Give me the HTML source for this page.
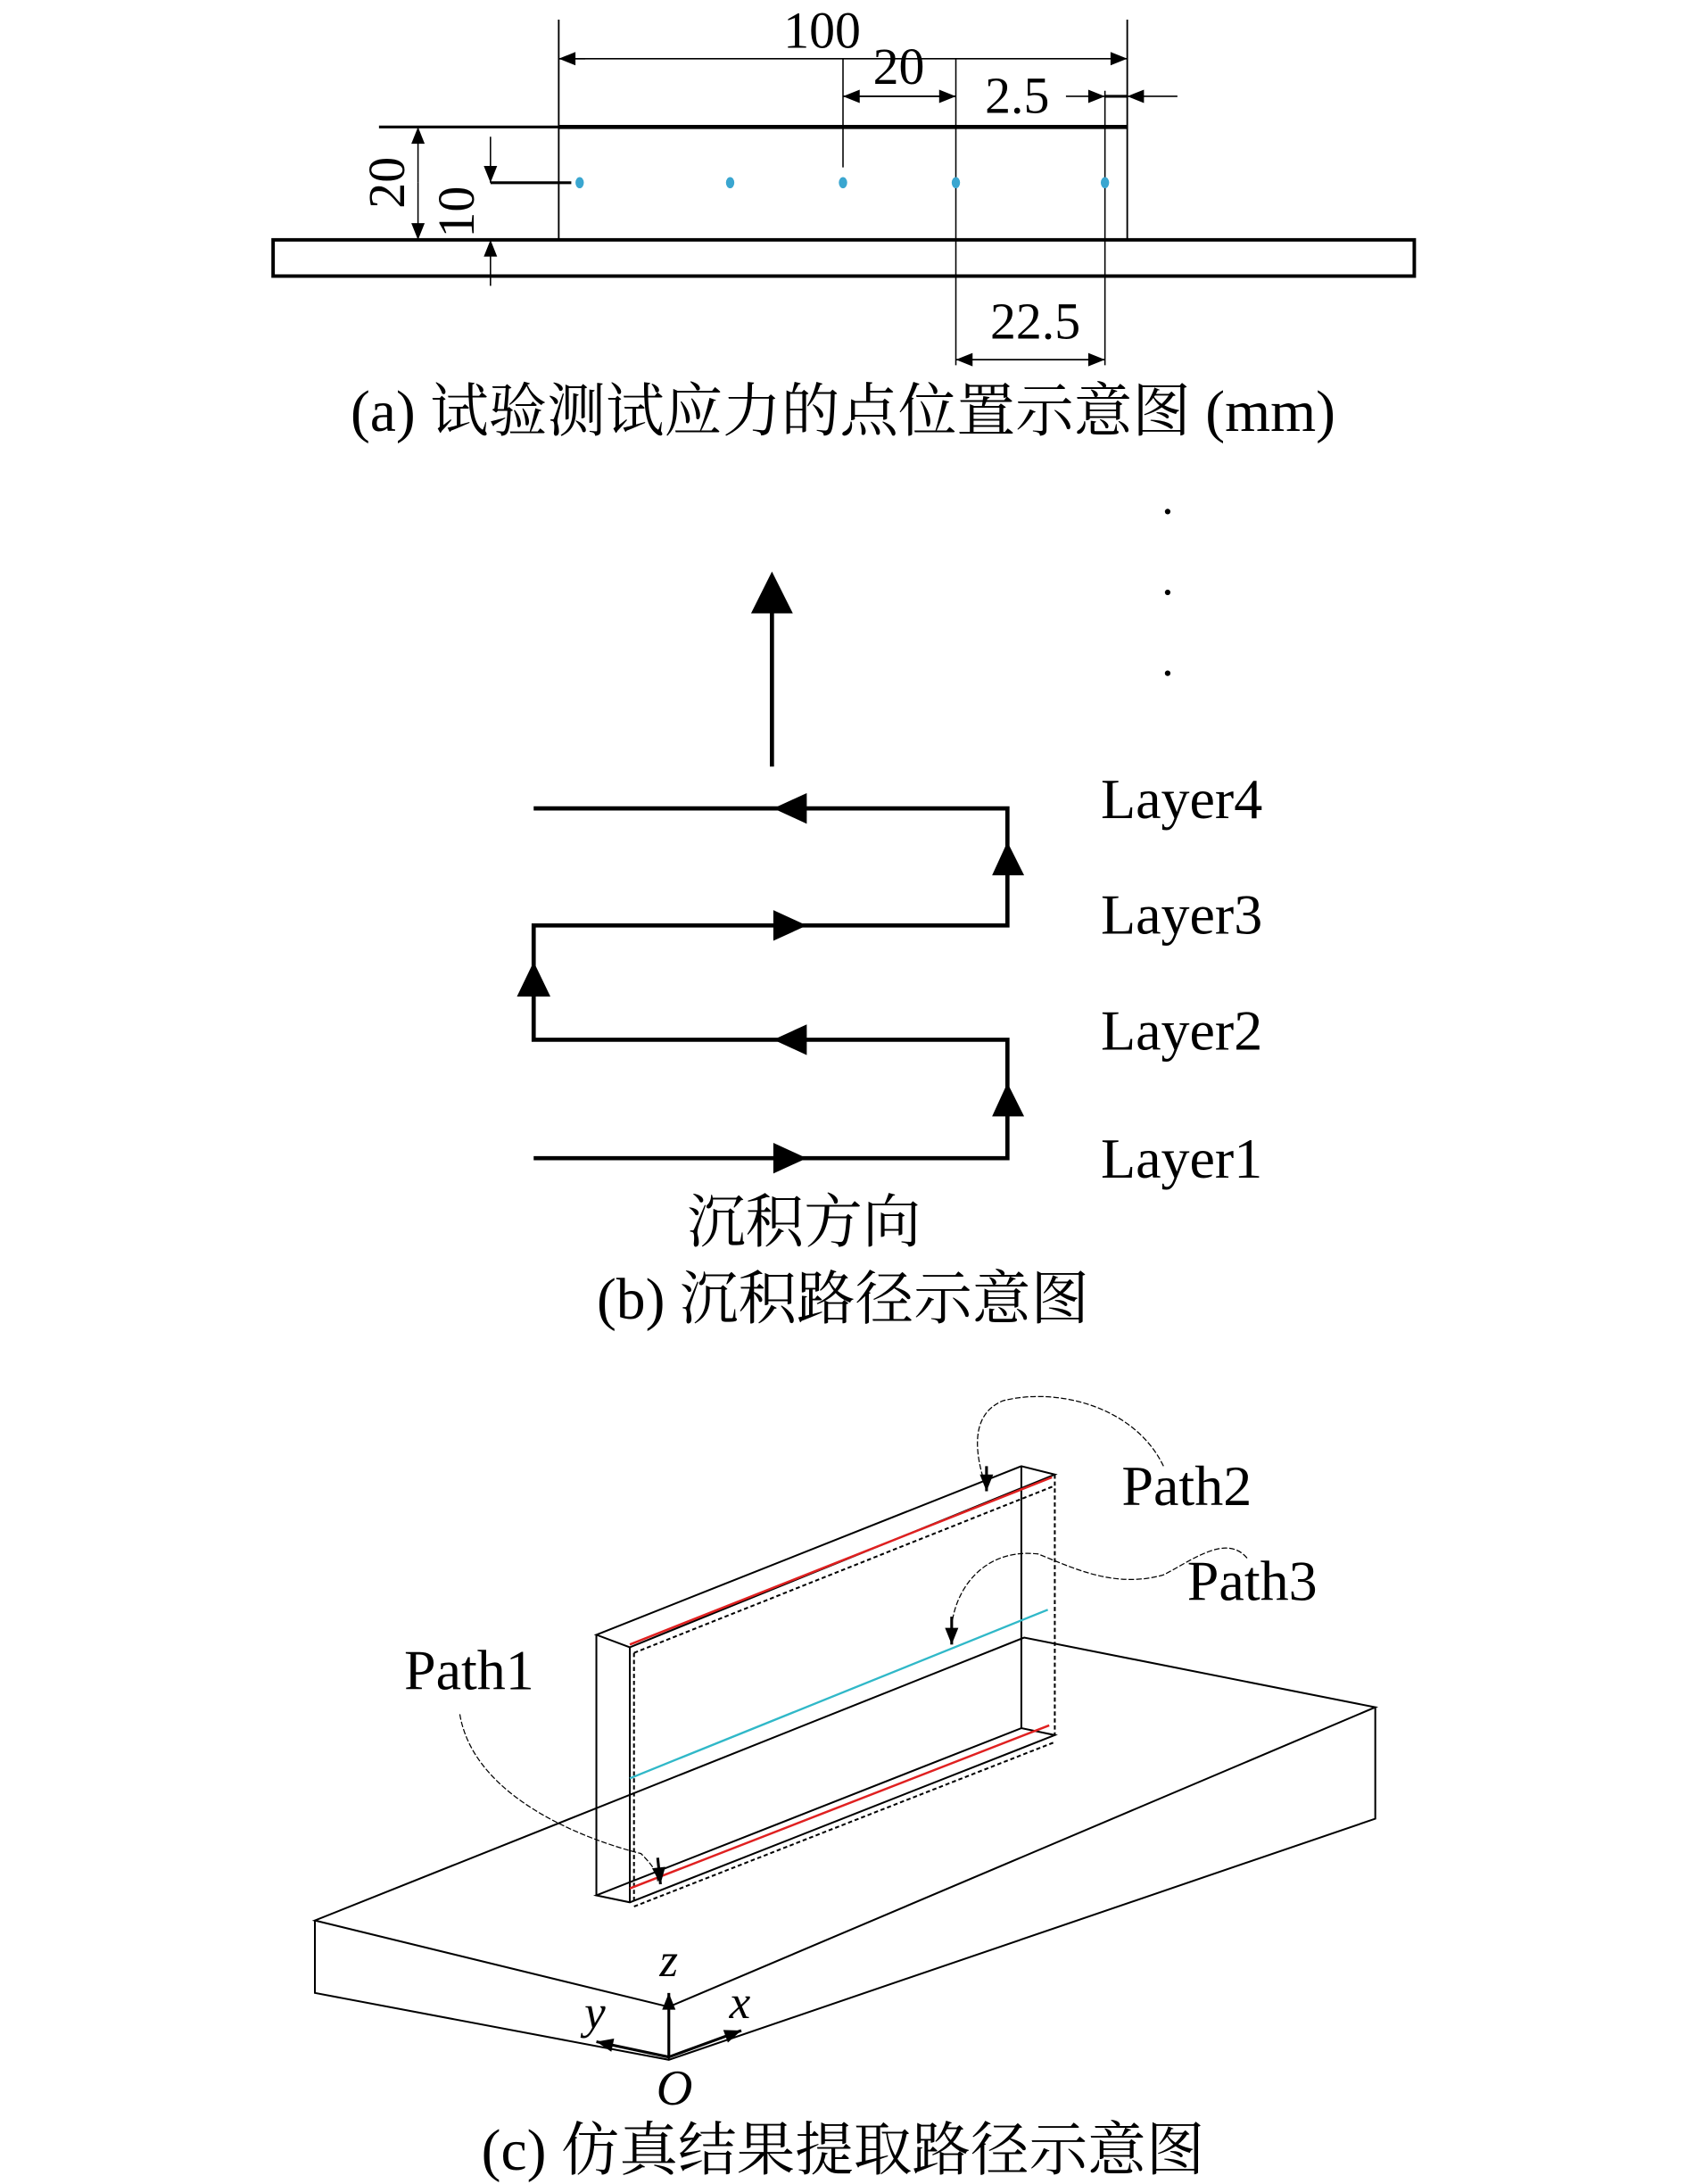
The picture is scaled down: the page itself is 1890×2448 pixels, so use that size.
<!DOCTYPE html>
<html><head><meta charset="utf-8"><style>
html,body{margin:0;padding:0;background:#fff}
svg{display:block}
text{font-family:"Liberation Serif","Noto Serif CJK SC","Noto Sans CJK SC",serif;fill:#000}
</style></head><body>
<svg width="1890" height="2448" viewBox="0 0 1210 1567" xmlns="http://www.w3.org/2000/svg">
<defs>
<marker id="ah" viewBox="0 0 10 10" refX="10" refY="5" markerWidth="14" markerHeight="12" markerUnits="userSpaceOnUse" orient="auto"><path d="M0,1 L10,5 L0,9 z" fill="#000"/></marker>
</defs>
<!-- (a) -->
<g stroke="#000" fill="none">
<rect x="196" y="172" width="819" height="26" stroke-width="2.5"/>
<line x1="401" y1="91" x2="809" y2="91" stroke-width="3"/>
<line x1="401" y1="14" x2="401" y2="172" stroke-width="1.2"/>
<line x1="809" y1="14" x2="809" y2="172" stroke-width="1.2"/>
<line x1="605" y1="42" x2="605" y2="120" stroke-width="1"/>
<line x1="686" y1="42" x2="686" y2="262" stroke-width="1"/>
<line x1="793" y1="65" x2="793" y2="262" stroke-width="1"/>
<line x1="401" y1="42" x2="809" y2="42" stroke-width="1" marker-end="url(#ah)"/>
<line x1="420" y1="42" x2="401" y2="42" stroke-width="1" marker-end="url(#ah)"/>
<line x1="605" y1="69" x2="686" y2="69" stroke-width="1" marker-end="url(#ah)"/>
<line x1="686" y1="69" x2="605" y2="69" stroke-width="1" marker-end="url(#ah)"/>
<line x1="765" y1="69" x2="793" y2="69" stroke-width="1" marker-end="url(#ah)"/>
<line x1="793" y1="69" x2="809" y2="69" stroke-width="2"/>
<line x1="845" y1="69" x2="809" y2="69" stroke-width="1" marker-end="url(#ah)"/>
<line x1="686" y1="258" x2="793" y2="258" stroke-width="1" marker-end="url(#ah)"/>
<line x1="793" y1="258" x2="686" y2="258" stroke-width="1" marker-end="url(#ah)"/>
<line x1="272" y1="91" x2="401" y2="91" stroke-width="2"/>
<line x1="352" y1="131" x2="410" y2="131" stroke-width="2"/>
<line x1="300" y1="131" x2="300" y2="91" stroke-width="1" marker-end="url(#ah)"/>
<line x1="300" y1="131" x2="300" y2="172" stroke-width="1" marker-end="url(#ah)"/>
<line x1="352" y1="98" x2="352" y2="131" stroke-width="1" marker-end="url(#ah)"/>
<line x1="352" y1="205" x2="352" y2="172" stroke-width="1" marker-end="url(#ah)"/>
</g>
<g fill="#3aa6d0"><ellipse cx="416" cy="131" rx="3" ry="4"/><ellipse cx="524" cy="131" rx="3" ry="4"/><ellipse cx="605" cy="131" rx="3" ry="4"/><ellipse cx="686" cy="131" rx="3" ry="4"/><ellipse cx="793" cy="131" rx="3" ry="4"/></g>
<text x="590" y="34" font-size="37" text-anchor="middle">100</text>
<text x="645" y="60" font-size="37" text-anchor="middle">20</text>
<text x="730" y="81" font-size="37" text-anchor="middle">2.5</text>
<text x="743" y="243" font-size="37" text-anchor="middle">22.5</text>
<text transform="translate(290,131) rotate(-90)" font-size="37" text-anchor="middle">20</text>
<text transform="translate(340,152) rotate(-90)" font-size="37" text-anchor="middle">10</text>
<text x="605" y="309" font-size="42" text-anchor="middle">(a) 试验测试应力的点位置示意图 (mm)</text>
<!-- (b) -->
<g stroke="#000" stroke-width="3" fill="none">
<line x1="554" y1="550" x2="554" y2="430"/>
<path d="M383,580 H723 V664 H383 V746 H723 V831 H383"/>
</g>
<g fill="#000">
<path d="M539,440 L554,410 L569,440 z"/>
<path d="M555,580 L579,569 L579,591 z"/>
<path d="M579,664 L555,653 L555,675 z"/>
<path d="M555,746 L579,735 L579,757 z"/>
<path d="M579,831 L555,820 L555,842 z"/>
<path d="M712,628 L723,604 L735,628 z"/>
<path d="M371,715 L383,690 L395,715 z"/>
<path d="M712,801 L723,777 L735,801 z"/>
<circle cx="838" cy="367" r="2"/><circle cx="838" cy="425" r="2"/><circle cx="838" cy="483" r="2"/>
</g>
<text x="790" y="587" font-size="41">Layer4</text>
<text x="790" y="670" font-size="41">Layer3</text>
<text x="790" y="753" font-size="41">Layer2</text>
<text x="790" y="845" font-size="41">Layer1</text>
<text x="577" y="891" font-size="42" text-anchor="middle">沉积方向</text>
<text x="605" y="946" font-size="42" text-anchor="middle">(b) 沉积路径示意图</text>
<!-- (c) -->
<g stroke="#000" stroke-width="1.3" fill="none">
<path d="M226,1378 L480,1440 L987,1225 L735,1175 L226,1378 Z"/>
<path d="M226,1378 V1430 L480,1478 L987,1305 V1225"/>
<line x1="480" y1="1440" x2="480" y2="1478"/>
<path d="M428,1173 L733,1052 L757,1058 L452,1182 Z"/>
<line x1="428" y1="1173" x2="428" y2="1360"/>
<line x1="452" y1="1182" x2="452" y2="1365"/>
<line x1="733" y1="1052" x2="733" y2="1240"/>
<path d="M428,1360 L452,1365 L757,1245 L733,1240 Z"/>
<g stroke-dasharray="3,2"><line x1="757" y1="1058" x2="757" y2="1245"/><line x1="455" y1="1186" x2="455" y2="1365"/><line x1="455" y1="1186" x2="757" y2="1066"/><line x1="455" y1="1368" x2="757" y2="1250"/></g>
</g>
<line x1="452" y1="1180" x2="755" y2="1060" stroke="#e02020" stroke-width="1.6"/>
<line x1="452" y1="1355" x2="753" y2="1238" stroke="#e02020" stroke-width="1.6"/>
<line x1="452" y1="1276" x2="752" y2="1155" stroke="#30b8c8" stroke-width="1.5"/>
<g stroke="#000" stroke-width="0.8" fill="none" stroke-dasharray="4,1.5">
<path d="M835,1052 C815,1010 760,995 720,1005 C695,1015 700,1045 708,1068"/>
<path d="M895,1118 C880,1100 855,1120 835,1130 C800,1140 770,1125 745,1115 C700,1110 680,1150 683,1178"/>
<path d="M330,1230 C340,1290 420,1320 460,1330 C470,1340 472,1345 472,1350"/>
</g>
<g stroke="#000" stroke-width="2" fill="none">
<line x1="708" y1="1052" x2="708" y2="1070" marker-end="url(#ah)"/>
<line x1="683" y1="1160" x2="683" y2="1180" marker-end="url(#ah)"/>
<line x1="472" y1="1333" x2="474" y2="1352" marker-end="url(#ah)"/>
<line x1="480" y1="1476" x2="480" y2="1430" marker-end="url(#ah)"/>
<line x1="480" y1="1476" x2="428" y2="1465" marker-end="url(#ah)"/>
<line x1="480" y1="1476" x2="532" y2="1457" marker-end="url(#ah)"/>
</g>
<text x="805" y="1080" font-size="41">Path2</text>
<text x="852" y="1148" font-size="41">Path3</text>
<text x="290" y="1212" font-size="41">Path1</text>
<text x="480" y="1418" font-size="34" font-style="italic" text-anchor="middle">z</text>
<text x="427" y="1455" font-size="34" font-style="italic" text-anchor="middle">y</text>
<text x="531" y="1448" font-size="34" font-style="italic" text-anchor="middle">x</text>
<text x="484" y="1510" font-size="36" font-style="italic" text-anchor="middle">O</text>
<text x="605" y="1557" font-size="42" text-anchor="middle">(c) 仿真结果提取路径示意图</text>
</svg>
</body></html>
